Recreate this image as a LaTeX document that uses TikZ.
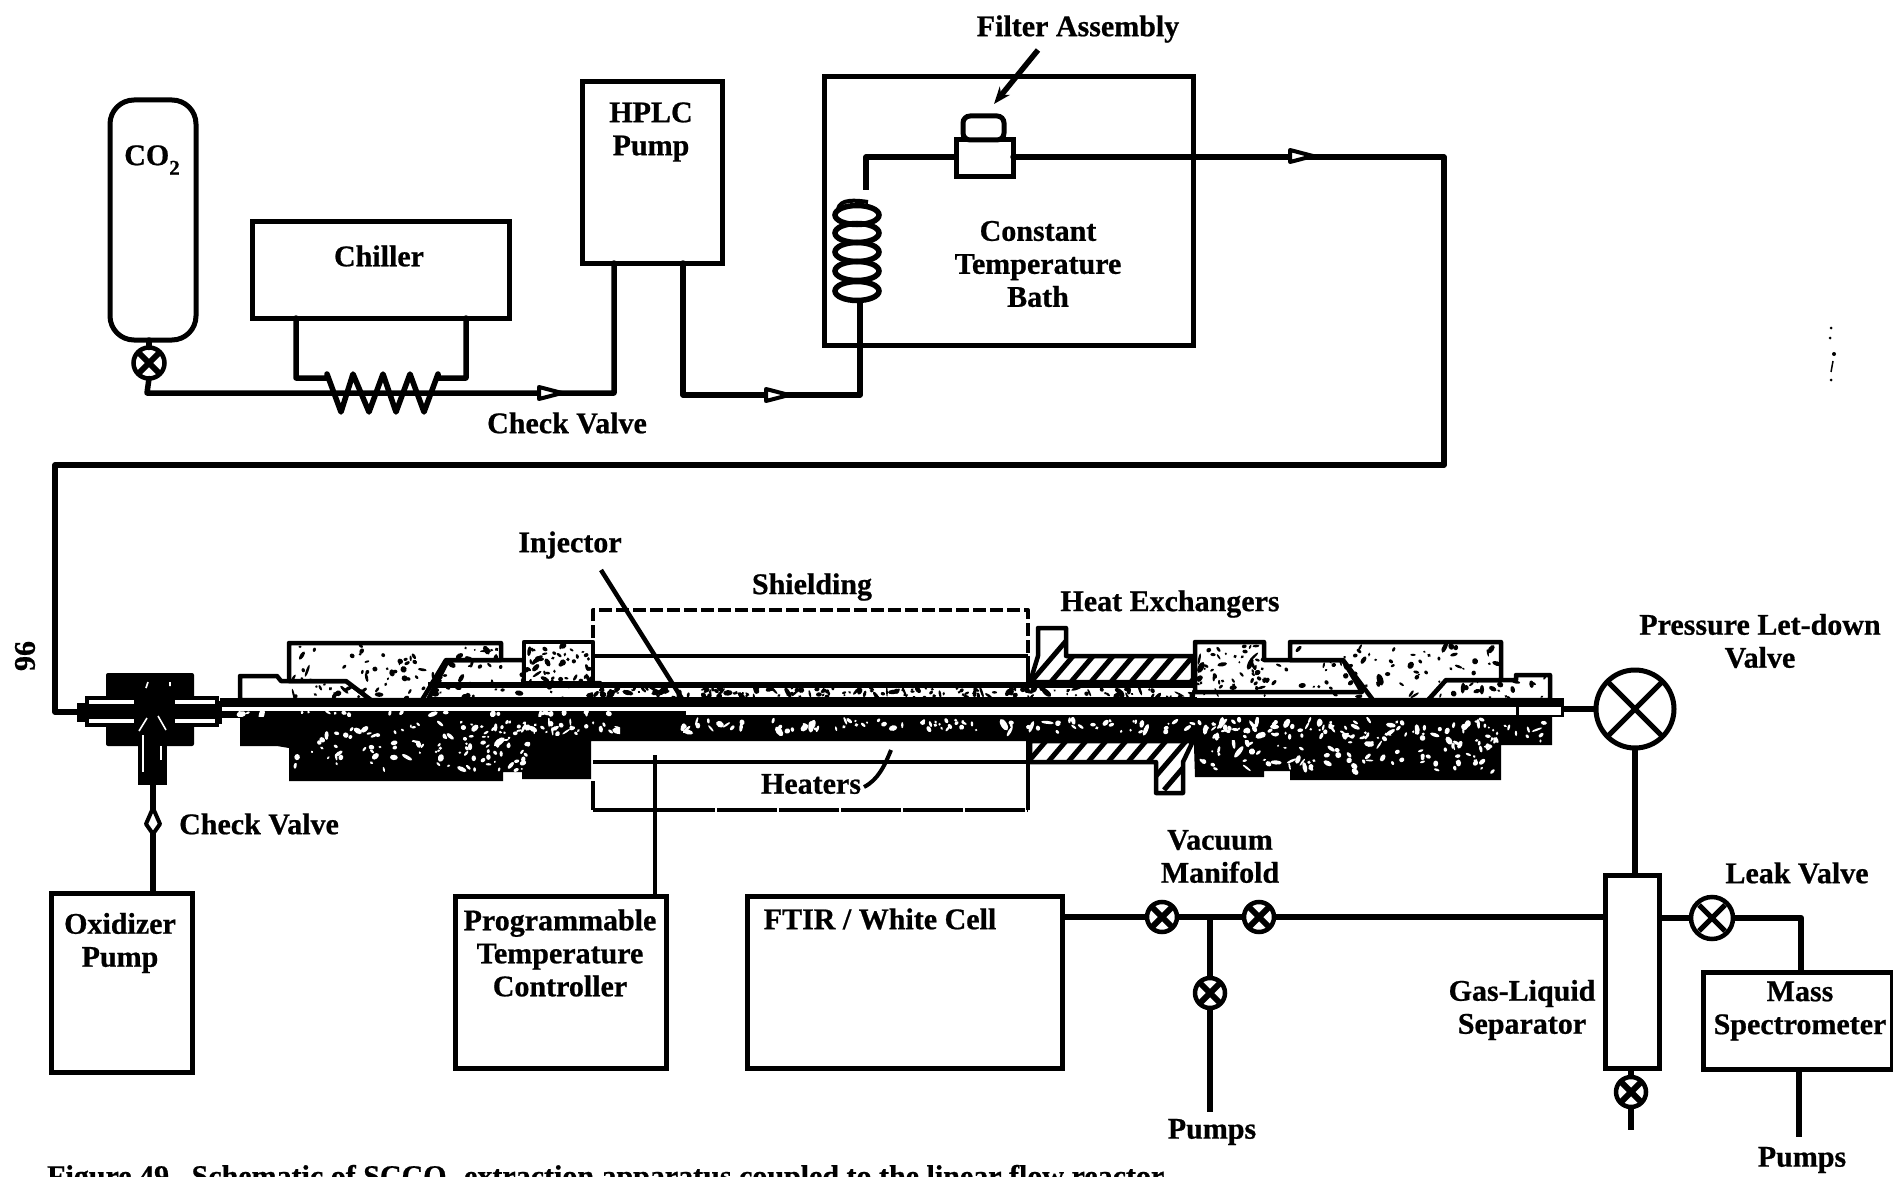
\documentclass[tikz,border=0pt]{standalone}
\usepackage{fontspec}
\setmainfont[BoldFeatures={FakeBold=0.7}]{Liberation Serif}
\usetikzlibrary{arrows.meta,calc}
\tikzset{
  box/.style={draw=black,line width=5pt,fill=white,inner sep=0pt,outer sep=0pt},
  lab/.style={font=\fontsize{30}{33}\selectfont\bfseries,inner sep=0pt,align=center,text=black},
  pipe/.style={draw=black,line width=5.5pt,line join=round,line cap=round},
  thickpipe/.style={draw=black,line width=6.5pt,line join=round,line cap=butt},
  wire/.style={draw=black,line width=4pt,line join=round},
  cv/.style={draw=black,fill=white,line width=4pt,line join=round},
  smallvalve/.style={circle,draw=black,fill=white,line width=4.5pt,minimum size=30pt,inner sep=0pt,outer sep=0pt,
     path picture={\draw[black,line width=6pt]
       (path picture bounding box.north west)--(path picture bounding box.south east)
       (path picture bounding box.north east)--(path picture bounding box.south west);}},
  bigvalve/.style={circle,draw=black,fill=white,line width=5pt,inner sep=0pt,outer sep=0pt,
     path picture={\draw[black,line width=5pt]
       ([xshift=8pt,yshift=-8pt]path picture bounding box.north west)--([xshift=-8pt,yshift=8pt]path picture bounding box.south east)
       ([xshift=-8pt,yshift=-8pt]path picture bounding box.north east)--([xshift=8pt,yshift=8pt]path picture bounding box.south west);}},
  outline/.style={draw=black,line width=4.5pt,line join=round},
}
\newcommand\spk[7]{%
  \begin{scope}\clip #1;
  \foreach \i in {1,...,#6}{%
    \pgfmathsetmacro\sx{#2+rnd*(#3-#2)}%
    \pgfmathsetmacro\sy{#4+rnd*(#5-#4)}%
    \pgfmathsetmacro\sa{1.1+rnd*rnd*6}%
    \pgfmathsetmacro\sb{0.9+rnd*2.2}%
    \pgfmathsetmacro\sr{rnd*180}%
    \fill[#7,rotate around={\sr:(\sx,\sy)}] (\sx,\sy) ellipse [x radius=\sa, y radius=\sb];
  }%
  \end{scope}}
\begin{document}
\begin{tikzpicture}[x=1pt,y=-1pt]
\useasboundingbox (0,0) rectangle (1893,1177);
\clip (0,0) rectangle (1893,1177);
\fill[white] (0,0) rectangle (1893,1177);
\pgfmathsetseed{11}

% ---------- top row
\node[box,rounded corners=24pt,minimum width=86pt,minimum height=240pt] (tank) at (153,220) {};
\node[lab] (co2) at (152,160) {CO\raisebox{-0.32em}{\fontsize{21}{21}\selectfont 2}};
\node[smallvalve,minimum size=31pt] (tankvalve) at (149,363) {};
\draw[pipe] (tank.south -| tankvalve) -- (tankvalve.north);
\node[box,minimum width=257pt,minimum height=96pt] (chiller) at (380.5,270) {};
\node[lab] (chillerlab) at (379,256) {Chiller};
\node[box,minimum width=140pt,minimum height=181pt] (hplc) at (652,172.5) {};
\node[lab] (hplclab) at (651,132) {HPLC\\Pump};
\node[box,minimum width=369pt,minimum height=268pt] (bath) at (1008.5,211) {};
\node[lab] (bathlab) at (1038,264) {Constant\\Temperature\\Bath};
\node[lab] (filterlab) at (1078,29) {Filter Assembly};
\node[lab] (cv1lab) at (567,423) {Check Valve};

% pipe from CO2 through chiller coil
\coordinate (hplcin) at (614,263);
\coordinate (hplcout) at (683,263);
\coordinate (c1) at (296,318);
\coordinate (c2) at (466,318);
\draw[pipe] (tankvalve.south) -- (147,393) -- (614,393) -- (hplcin);
\draw[pipe] (c1) -- (296,378) -- (327,378)
  -- (327,374) -- (341,412) -- (353,374) -- (369,412) -- (383,374) -- (396,412) -- (410,374) -- (424,412) -- (438,374)
  -- (438,378) -- (466,378) -- (c2);
\draw[cv] (539,387) -- (562,393) -- (539,399) -- cycle;

\coordinate (bathpipe) at (860,395);
\draw[pipe] (hplcout) -- (683,395) -- (bathpipe) -- (860,303);
\draw[cv] (766,389) -- (789,395) -- (766,401) -- cycle;

% coil
\node[box,minimum width=57pt,minimum height=37pt] (filterbody) at (984.5,158.5) {};
\node[box,rounded corners=7pt,minimum width=41pt,minimum height=24pt] (filtercap) at (983.5,128) {};
\foreach \cy in {291,271,252,233,215}{
  \draw[black,line width=5.5pt] (857,\cy) ellipse [x radius=22, y radius=9.5];
}
\draw[black,line width=4pt] (838,209) .. controls (840,199) and (855,200) .. (868,202);
\draw[pipe,line cap=butt] (866,190) -- (866,157) -- (filterbody.west |- 0,157);
\coordinate (topturn) at (1444,157);
\coordinate (leftturn) at (1444,465);
\draw[pipe] (filterbody.east |- 0,157) -- (topturn) -- (leftturn) -- (55,465) -- (55,712) -- (78,712);
\draw[cv] (1290,150) -- (1313,156) -- (1290,162) -- cycle;
\coordinate (fa1) at (1038,50);
\coordinate (fa2) at (994,104);
\draw[black,line width=5.5pt,-{Stealth[length=17pt,width=13pt]}] (fa1) -- (fa2);

% ---------- reactor: lower parts (black with white specks)
\fill[black] (240,715) -- (240,746) -- (277,746) -- (289,748) -- (289,781) -- (503,781) -- (503,772) -- (522,772) -- (522,779) -- (591,779) -- (591,741) -- (1195,741) -- (1195,716) -- cycle;
\fill[black] (1193,716) -- (1552,716) -- (1552,745) -- (1501,745) -- (1501,780) -- (1290,780) -- (1290,771) -- (1264,771) -- (1264,777) -- (1195,777) -- cycle;
\spk{(240,715) rectangle (600,782)}{295}{430}{724}{772}{45}{white}
\spk{(430,724) rectangle (530,772)}{435}{530}{736}{770}{50}{white}
\spk{(430,718) rectangle (620,735)}{430}{620}{722}{734}{50}{white}
\spk{(620,717) rectangle (1195,738)}{680}{1195}{720}{732}{90}{white}
\spk{(1195,717) rectangle (1500,740)}{1195}{1370}{719}{738}{70}{white}
\spk{(1195,740) rectangle (1500,778)}{1200}{1495}{742}{772}{85}{white}
\spk{(1360,717) rectangle (1552,745)}{1360}{1545}{719}{742}{50}{white}

% heat exchanger, lower
\begin{scope}
\clip (1030,741) -- (1193,741) -- (1183,762) -- (1183,793) -- (1156,793) -- (1156,762) -- (1030,762) -- cycle;
\fill[white] (1030,741) rectangle (1193,800);
\foreach \hx in {1030,1050,...,1210}{\draw[black,line width=5pt] (\hx,800) ++(-26,-10) -- ++(60,-70);}
\end{scope}
\draw[outline] (1030,741) -- (1193,741) -- (1183,762) -- (1183,793) -- (1156,793) -- (1156,762) -- (1030,762) -- cycle;

% core tube
\fill[black] (220,698) rectangle (1564,717);
\fill[white] (222,707) rectangle (1561,715);
\fill[black] (222,711) rectangle (686,718);
\fill[black] (1516,707) rectangle (1519,715);
\spk{(222,711) rectangle (686,716)}{230}{680}{712}{715}{25}{white}

% ---------- reactor: upper parts
\def\Pa{(240,698) -- (240,676) -- (277,676) -- (281,681) -- (346,681) -- (371,700) -- (240,700) -- cycle}
\filldraw[outline,fill=white] \Pa;
\spk{\Pa}{290}{360}{684}{698}{14}{black}

\def\Pc{(428,700) -- (448,660) -- (524,660) -- (524,683) -- (600,683) -- (600,700) -- cycle}
\filldraw[outline,fill=white] \Pc;
\spk{\Pc}{435}{600}{662}{698}{55}{black}

\def\Pb{(289,681) -- (289,643) -- (501,643) -- (501,660) -- (446,660) -- (422,700) -- (371,700) -- (346,681) -- cycle}
\filldraw[outline,fill=white] \Pb;
\spk{\Pb}{292}{500}{646}{698}{85}{black}

\def\Pd{(524,683) -- (524,642) -- (593,642) -- (593,683) -- cycle}
\filldraw[outline,fill=white] \Pd;
\spk{\Pd}{526}{592}{645}{682}{50}{black}

\def\Pe{(593,685) rectangle (1195,698)}
\fill[white] \Pe;
\spk{\Pe}{593}{1195}{688}{698}{170}{black}
\fill[black] (428,682) rectangle (1197,688);
\fill[black] (428,697) rectangle (1197,707);

% heat exchanger, upper
\begin{scope}
\clip (1030,682) -- (1038,656) -- (1038,628) -- (1066,628) -- (1066,656) -- (1193,656) -- (1193,682) -- cycle;
\fill[white] (1020,620) rectangle (1200,690);
\foreach \hx in {1030,1050,...,1210}{\draw[black,line width=5pt] (\hx,690) ++(-6,0) -- ++(60,-70);}
\end{scope}
\draw[outline] (1030,682) -- (1038,656) -- (1038,628) -- (1066,628) -- (1066,656) -- (1193,656) -- (1193,682) -- cycle;

% right side blocks
\def\Pf{(1195,692) -- (1195,642) -- (1264,642) -- (1264,660) -- (1343,660) -- (1362,692) -- cycle}
\filldraw[outline,fill=white] \Pf;
\spk{\Pf}{1197}{1360}{645}{690}{85}{black}
\def\Ph{(1428,700) -- (1446,680) -- (1516,680) -- (1516,675) -- (1550,675) -- (1550,700) -- cycle}
\filldraw[outline,fill=white] \Ph;
\spk{\Ph}{1430}{1548}{677}{698}{28}{black}
\def\Pg{(1290,660) -- (1290,642) -- (1501,642) -- (1501,680) -- (1446,680) -- (1428,700) -- (1373,700) -- (1343,660) -- cycle}
\filldraw[outline,fill=white] \Pg;
\spk{\Pg}{1292}{1500}{645}{698}{80}{black}
\spk{(1195,688) rectangle (1362,698)}{1195}{1362}{689}{697}{5}{black}
\fill[black] (1362,698) rectangle (1564,707);
\fill[black] (1195,698) rectangle (1362,707);

% fitting with T-stem
\fill[black,rounded corners=2pt] (106,673) rectangle (194,746);
\fill[black] (77,703) rectangle (88,722);
\fill[black] (214,701) rectangle (222,724);
\fill[black] (85,696) rectangle (219,727);
\fill[white] (89,700) rectangle (134,704);
\fill[white] (175,700) rectangle (215,704);
\fill[white] (89,719) rectangle (134,723);
\fill[white] (175,719) rectangle (215,723);
\draw[white,line width=1.6pt] (146,688) -- (148,682) (139,731) -- (147,718) (158,716) -- (166,730) (170,682) -- (170,686);
\fill[black] (138,746) rectangle (167,785);
\fill[white] (142,735) rectangle (144,772);
\fill[white] (160,746) rectangle (162,760);

% left bottom stem
\node[box,minimum width=141pt,minimum height=179pt] (oxpump) at (121.5,982.5) {};
\node[lab] (oxlab) at (120,943) {Oxidizer\\Pump};
\coordinate (stem) at (153,785);
\draw[line width=5.5pt,black] (stem) -- (153,893);
\draw[cv] (153,808) -- (160,824) -- (153,834) -- (146,824) -- cycle;
\node[lab] (cv2lab) at (259,824) {Check Valve};

% shielding and heaters
\draw[wire] (593,642) -- (593,682);
\draw[wire] (593,656) -- (1028,656);
\draw[black,line width=4pt] (1028,656) -- (1028,682);
\draw[black,line width=4pt] (1028,741) -- (1028,762);
\draw[wire,dashed,dash pattern=on 13pt off 4pt] (593,655) -- (593,610) -- (1028,610) -- (1028,655);
\draw[wire] (593,762) -- (1028,762);
\draw[wire] (593,781) -- (593,810);
\draw[wire,dash pattern=on 60pt off 2pt] (593,810) -- (1028,810);
\draw[wire] (1028,762) -- (1028,810);
\node[lab] (shieldlab) at (812,587) {Shielding};
\node[lab] (helab) at (1170,604) {Heat Exchangers};
\node[lab] (injlab) at (570,545) {Injector};
\node[lab] (heatlab) at (811,784) {Heaters};
\coordinate (inj1) at (601,570);
\coordinate (inj2) at (686,705);
\draw[wire,line width=4.5pt] (inj1) -- (inj2);
\coordinate (ht1) at (864,787);
\coordinate (ht2) at (891,750);
\draw[black,line width=4pt] (ht1) .. controls (878,780) and (885,765) .. (ht2);

% pressure let-down
\node[lab] (pvlab) at (1760,641) {Pressure Let-down\\Valve};
\node[bigvalve,minimum size=78pt] (pvalve) at (1635,709) {};
\coordinate (tubeend) at (1564,709);
\draw[thickpipe,line width=5.5pt] (tubeend) -- (pvalve.west);
% bottom row
\node[box,minimum width=211pt,minimum height=172pt] (ptc) at (560.5,982) {};
\node[lab] (ptclab) at (560,953) {Programmable\\Temperature\\Controller};
\coordinate (ptcwire) at (655,755);
\draw[black,line width=4.5pt] (ptcwire) -- (655,896);
\node[box,minimum width=315pt,minimum height=172pt] (ftir) at (904.5,982) {};
\node[lab] (ftirlab) at (880,919) {FTIR / White Cell};
\node[lab] (vmlab) at (1220,856.5) {Vacuum\\Manifold};
\node[smallvalve] (v1) at (1162,917) {};
\node[smallvalve] (v2) at (1259,917) {};
\node[smallvalve] (v3) at (1210,993) {};
\node[box,minimum width=54pt,minimum height=193pt] (sep) at (1632,971.5) {};
\node[lab] (seplab) at (1522,1010) {Gas-Liquid\\Separator};
\node[smallvalve] (v4) at (1631,1092) {};
\node[bigvalve,minimum size=42pt,line width=4.5pt] (leak) at (1712,918) {};
\node[lab] (leaklab) at (1797,873) {Leak Valve};
\node[box,minimum width=189pt,minimum height=97pt] (ms) at (1797.5,1020.5) {};
\node[lab] (mslab) at (1800,1011) {Mass\\Spectrometer};
\node[lab] (p1lab) at (1212,1132) {Pumps};
\node[lab] (p2lab) at (1802,1160) {Pumps};
\coordinate (tj) at (1210,917);
\coordinate (p1end) at (1210,1112);
\coordinate (p2end) at (1799,1137);
\coordinate (v4end) at (1631,1130);
\coordinate (mturn) at (1801,918);
\draw[thickpipe] (ftir.east |- v1) -- (v1.west);
\draw[thickpipe] (v1.east) -- (v2.west);
\draw[thickpipe] (v2.east) -- (sep.west |- v2);
\draw[thickpipe] (tj) -- (v3.north);
\draw[thickpipe] (v3.south) -- (p1end);
\draw[thickpipe] (pvalve.south) -- (sep.north -| pvalve);
\draw[thickpipe] (sep.south -| v4) -- (v4.north);
\draw[thickpipe] (v4.south) -- (v4end);
\draw[thickpipe] (sep.east |- leak) -- (leak.west);
\draw[thickpipe] (leak.east) -- (mturn) -- (ms.north -| mturn);
\draw[thickpipe] (ms.south -| p2end) -- (p2end);

% margin text and caption
\node[lab,rotate=90] (pageno) at (25,656) {96};
\node[lab,anchor=base west] (caption) at (47,1186) {Figure 49. \,Schematic of SCCO\raisebox{-0.3em}{\fontsize{20}{20}\selectfont 2} extraction apparatus coupled to the linear flow reactor.};
% stray specks
\fill[black] (1831,328) circle [radius=1.5];
\fill[black] (1830,338) circle [radius=1.5];
\fill[black] (1834,354) circle [radius=2];
\draw[black,line width=1.5pt] (1833,361) -- (1831,372);
\fill[black] (1831,380) circle [radius=1.5];
\end{tikzpicture}
\end{document}
